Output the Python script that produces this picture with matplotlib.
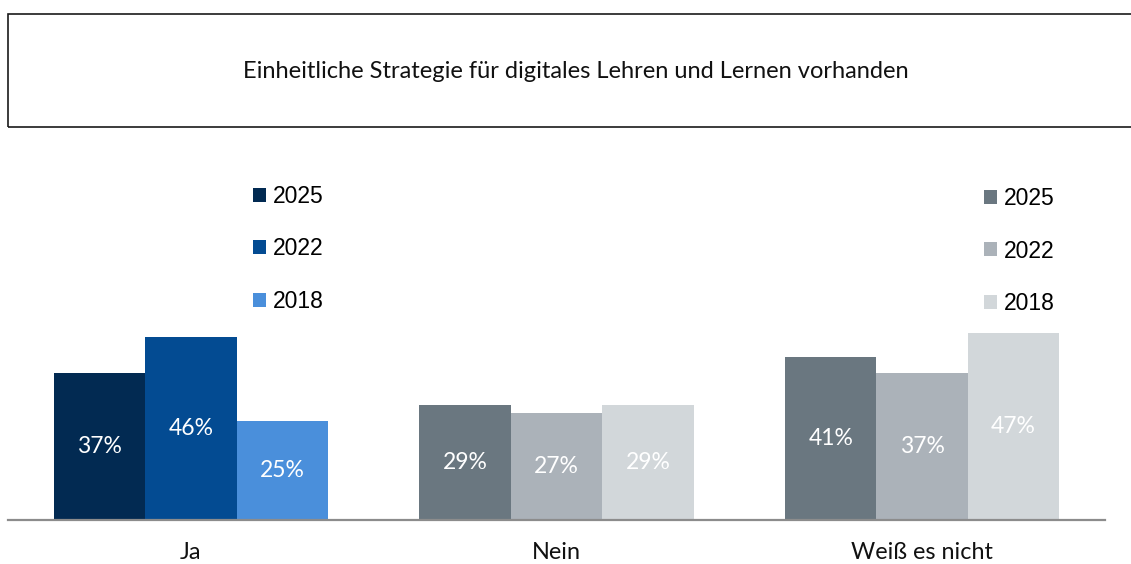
import matplotlib
matplotlib.use("Agg")
import matplotlib.pyplot as plt
import matplotlib.patches as mpatches
import numpy as np

# Daten
kategorien = ["Ja", "Nein", "Weiß es nicht"]
jahre = ["2025", "2022", "2018"]
werte_2025 = [37, 29, 41]
werte_2022 = [46, 27, 37]
werte_2018 = [25, 29, 47]
titel = "Einheitliche Strategie für digitales Lehren und Lernen vorhanden"

# Farben: Blau für "Ja", Grau für die übrigen Kategorien
blau = ["#022a52", "#034b92", "#4a8fdb"]
grau = ["#6a7780", "#abb2b9", "#d2d7da"]

W, H = 1131, 564
fig = plt.figure(figsize=(W / 100, H / 100), dpi=100)

# Titelrahmen
rahmen = mpatches.Rectangle((8 / W, 1 - 127 / H), 1.2, 113 / H, transform=fig.transFigure,
                            fill=False, edgecolor="#1a1a1a", linewidth=1.2)
fig.patches.append(rahmen)
fig.text(576 / W, 1 - 71 / H, titel, ha="center", va="center",
         fontsize=17, family="Lato", color="#111111")

# Diagrammbereich
ax = fig.add_axes([8 / W, 44 / H, 1097 / W, 380 / H])
x = np.arange(len(kategorien))
breite = 0.25
serien = [werte_2025, werte_2022, werte_2018]
versatz = [-breite, 0, breite]

for i, (werte, dx) in enumerate(zip(serien, versatz)):
    farben = [blau[i], grau[i], grau[i]]
    balken = ax.bar(x + dx, werte, width=breite, color=farben, linewidth=0)
    for b, v in zip(balken, werte):
        ax.text(b.get_x() + b.get_width() / 2, v / 2, f"{v}%", ha="center", va="center",
                color="white", fontsize=16.5, family="Lato")

ax.set_xlim(-0.5, 2.5)
ax.set_ylim(0, 95.5)
ax.set_xticks(x)
ax.set_xticklabels(kategorien, fontsize=16.8, family="Lato", color="#111111")
ax.tick_params(axis="x", length=0, pad=16)
ax.set_yticks([])
for s in ["top", "left", "right"]:
    ax.spines[s].set_visible(False)
ax.spines["bottom"].set_color("#8c8c8c")
ax.spines["bottom"].set_linewidth(1.6)

# Legenden
def legende(farben, pos):
    handles = [mpatches.Patch(facecolor=c, edgecolor="none") for c in farben]
    leg = fig.legend(handles, jahre, loc="center left", bbox_to_anchor=pos,
                     bbox_transform=fig.transFigure, frameon=False,
                     prop={"family": "Liberation Sans", "size": 16.5},
                     handlelength=0.57, handleheight=0.57, handletextpad=0.3,
                     labelspacing=1.29, borderpad=0, borderaxespad=0)
    return leg

legende(blau, (253 / W, 1 - 249 / H))
legende(grau, (984 / W, 1 - 251 / H))

fig.savefig("out.png", dpi=100)
